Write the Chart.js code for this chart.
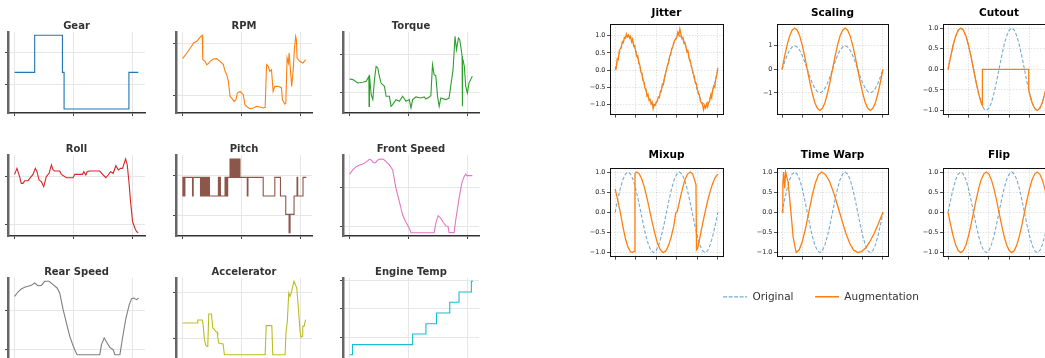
<!DOCTYPE html>
<html><head><meta charset="utf-8">
<script src="https://cdn.jsdelivr.net/npm/chart.js@4.4.1/dist/chart.umd.min.js"></script>
<style>
html,body{margin:0;padding:0;background:#fff;overflow:hidden;width:1045px;height:358px;}
canvas{position:absolute;}
</style></head><body>
<script>
// ---------------- DATA: left panel (vehicle signals, normalised 0-100) ----------------
const leftXTicks = [0, 500, 1000];

const gearT = [0,169.5,169.5,404,404,418,418,966,966,1045];
const gearV = [50.2,50.2,95.9,95.9,50.2,50.2,4.9,4.9,50.2,50.2];
const gearTicks = [34.6, 74.1];

const rpmT = [0,37,79,93,121,155,167,172,192,206,220,234,263,291,319,347,362,376,390,404,418,438,455,466,489,503,517,531,551,573,602,630,658,686,703,715,729,743,757,771,785,814,842,850,870,879,890,901,907,918,929,941,952,963,969,975,997,1025,1048];
const rpmV = [67.1,74.1,83.1,86.4,88.5,94.7,95.9,65.8,63.8,59.7,60.9,63.8,66.7,67.1,63.8,59.7,51.4,47.3,39.1,20.6,18.5,14.4,16.5,24.7,26.7,24.7,22.6,10.3,7.4,5.3,6.2,8.2,7.4,6.2,7.0,59.7,57.6,51.4,53.5,26.7,32.9,32.9,30.9,16.5,11.1,12.3,67.9,61.7,74.1,53.5,32.9,51.4,78.2,94.7,90.5,67.9,63.8,61.7,65.8];
const rpmTicks = [22.2, 85.2];

const torqueT = [0,28,71,113,141,160,164,166,169,184,198,212,226,240,254,268,297,311,339,353,367,395,424,452,480,508,523,537,565,607,636,650,678,692,706,720,734,749,763,777,819,847,881,898,910,927,938,955,958,960,962,966,977,989,1003,1017,1031,1045];
const torqueV = [42,41.2,37,37.9,39.1,44,46.1,8.2,47.3,22.6,16.5,41.2,57.6,55.6,45.3,37,32.9,20.6,20.6,8.2,10.3,16.5,14.4,20.6,14.4,16.5,6.2,16.5,19.8,18.5,19.8,17.3,19.8,21.4,59.7,47.3,46.1,20.6,8.2,18.5,16.5,18.5,53.5,94.7,78.2,92.6,90.5,74.1,70,8.2,65.8,65.8,57.6,32.9,24.7,37,41.2,45.3];
const torqueTicks = [24.7, 72.0];

const rollT = [0,20,42,56,71,85,113,133,155,175,189,206,226,246,268,291,311,325,339,381,395,438,494,508,573,585,602,613,630,720,749,771,791,811,833,856,876,895,912,938,952,966,980,997,1017,1031,1045];
const rollV = [76.1,83.5,73.3,65,65,68.3,68.3,72,76.1,83.5,79.4,69.1,67.1,60.9,73.3,77.4,87.7,81.5,80.2,80.2,76.1,72,72,76.1,76.1,79.4,75.3,79.4,80.2,80.2,75.3,72,75.3,79.4,77.4,86.8,81.5,83.5,83.5,95.1,87.7,67.1,42.4,17.7,9.5,5.3,4.1];
const rollTicks = [13.6, 73.3];

const pitchT = [0,2.8,5.7,8.5,11.3,14.1,17,19.8,84.8,90.4,152.6,158.2,163.9,169.5,175.2,180.8,186.5,192.1,194.9,200.6,206.2,211.9,217.5,223.2,228.8,305.1,310.8,316.4,322.1,361.6,367.3,372.9,378.6,384.2,404,409.6,415.3,420.9,426.6,432.2,437.9,443.5,449.2,454.8,460.5,466.1,471.8,477.4,483.1,488.7,550.9,556.5,686.5,785.4,833.4,878.6,906.8,915.3,949.2,974.6,980.3,1025.5,1053.7];
const pitchV = [49.4,72.4,49.4,72.4,49.4,72.4,49.4,72.4,49.4,72.4,49.4,72.4,49.4,72.4,49.4,72.4,49.4,72.4,49.4,72.4,49.4,72.4,49.4,72.4,49.4,72.4,49.4,72.4,49.4,72.4,49.4,72.4,49.4,72.4,95.1,72.4,95.1,72.4,95.1,72.4,95.1,72.4,95.1,72.4,95.1,72.4,95.1,72.4,95.1,72.4,49.4,72.4,49.4,72.4,49.4,26.7,4.1,26.7,49.4,72.4,49.4,72.4,72.4];
const pitchTicks = [25.1, 74.5];

const frontT = [0,28,56,85,113,136,155,169,184,203,220,240,260,288,311,339,367,395,424,452,480,508,523,720,734,754,777,797,819,839,847,890,904,932,955,975,989,997,1045];
const frontV = [76.5,81.5,85.6,87.7,88.9,90.9,93,94.7,93.8,90.5,90.5,93.8,95.1,94.7,91.8,87.7,81.5,58.8,42.4,25.9,16.9,9.5,4.1,4.1,15.6,25.1,21.8,16.9,12.8,11.5,4.5,4.1,19.8,46.5,65,73.3,76.5,74.5,74.5];
const frontTicks = [12.3, 60.1];

const rearT = [0,28,56,85,113,141,169,198,226,254,291,325,359,381,410,438,466,489,508,528,720,734,757,777,805,833,847,890,912,941,969,989,1008,1031,1048];
const rearV = [77.4,82.7,86.4,88.5,89.7,90.9,93.8,90.5,90.9,95.9,95.9,91.8,87.7,81.5,60.9,44.4,28,18.5,11.5,5.3,5.3,17.7,25.9,21,14.4,11.5,5.3,5.3,25.9,50.6,67.1,74.5,75.3,73.3,75.3];
const rearTicks = [11.5, 60.1];

const accT = [0,124,130,167,175,186,198,209,215,223,246,257,266,280,294,299,308,345,356,703,712,760,768,873,881,892,904,915,927,938,949,963,972,986,1000,1009,1017,1023,1034,1048];
const accV = [44.4,44.4,48.1,48.1,42.4,23.9,16.9,15.6,17.7,55.6,55.6,38.3,37.4,34.2,33.3,28,19.8,18.5,5.3,5.3,41.2,41.2,5.3,5.3,34.2,46.5,81.5,77.4,82.7,89.7,95.9,90.9,87.7,63,34.2,26.7,28,40.3,40.3,48.6];
const accTicks = [24.7, 81.5];

const tempT = [0,25,25,537,537,650,650,740,740,853,853,932,932,1037,1037,1051];
const tempV = [5.3,5.3,17.7,17.7,30.9,30.9,43.6,43.6,56.8,56.8,70,70,82.7,82.7,95.9,95.9];
const tempTicks = [26.7, 62.1, 96.7];

// ---------------- DATA: right panel (augmentations of a sine) ----------------
const rightXTicks = [0,20,40,60,80,100];
const decTicks = [-1,-0.5,0,0.5,1];
const decLabels = ['\u22121.0','\u22120.5','0.0','0.5','1.0'];
const intTicks = [-1,0,1];
const intLabels = ['\u22121','0','1'];

const origT = [0,2.5,5,7.5,10,12.5,15,17.5,20,22.5,25,27.5,30,32.5,35,37.5,40,42.5,45,47.5,50,52.5,55,57.5,60,62.5,65,67.5,70,72.5,75,77.5,80,82.5,85,87.5,90,92.5,95,97.5,100];
const origV = [0,0.31,0.59,0.81,0.95,1,0.95,0.81,0.59,0.31,0,-0.31,-0.59,-0.81,-0.95,-1,-0.95,-0.81,-0.59,-0.31,0,0.31,0.59,0.81,0.95,1,0.95,0.81,0.59,0.31,0,-0.31,-0.59,-0.81,-0.95,-1,-0.95,-0.81,-0.59,-0.31,0];

const jitterV = [0.10,0.05,0.32,0.30,0.55,0.62,0.66,0.83,0.80,0.95,0.93,1.05,0.97,1.02,0.93,0.98,0.82,0.90,0.70,0.72,0.55,0.40,0.42,0.20,0.15,-0.05,-0.08,-0.30,-0.33,-0.52,-0.55,-0.75,-0.70,-0.88,-0.85,-0.98,-0.92,-1.12,-1.00,-1.02,-0.93,-0.90,-0.78,-0.80,-0.62,-0.58,-0.40,-0.42,-0.22,-0.10,0.02,0.15,0.22,0.40,0.45,0.62,0.66,0.80,0.86,0.92,0.95,1.10,1.02,1.20,1.05,0.92,0.95,0.78,0.80,0.66,0.52,0.55,0.32,0.30,0.15,0.02,-0.10,-0.18,-0.35,-0.38,-0.55,-0.66,-0.72,-0.90,-0.95,-0.98,-1.15,-1.03,-1.10,-0.98,-1.07,-0.95,-0.90,-0.72,-0.80,-0.58,-0.45,-0.50,-0.25,-0.12,0.07];

const scaleV = [0,0.54,1.03,1.42,1.66,1.75,1.66,1.42,1.03,0.54,0,-0.54,-1.03,-1.42,-1.66,-1.75,-1.66,-1.42,-1.03,-0.54,0,0.54,1.03,1.42,1.66,1.75,1.66,1.42,1.03,0.54,0,-0.54,-1.03,-1.42,-1.66,-1.75,-1.66,-1.42,-1.03,-0.54,0];

const cutT = [0,2.5,5,7.5,10,12.5,15,17.5,20,22.5,25,27.5,30,32.5,33.7,33.7,79.2,79.2,80,82.5,85,87.5,90,92.5,95,97.5,100];
const cutV = [0,0.31,0.59,0.81,0.95,1,0.95,0.81,0.59,0.31,0,-0.31,-0.59,-0.81,-0.87,0,0,-0.5,-0.59,-0.81,-0.95,-1,-0.95,-0.81,-0.59,-0.31,0];

const mixT = [0,2.5,5,7.5,10,12.5,15,16.5,18.7,19.3,21,23.5,26,28.5,31,33.5,36,38.5,41,43.5,46,47,49.5,52,54.5,57,59,60.5,63,65.5,68,70.5,73,75.5,78.7,79.2,80.5,82.5,85,87.5,90,92.5,95,97.5,100];
const mixV = [0.58,0.30,0.0,-0.35,-0.65,-0.87,-0.98,-1.0,-0.97,0.97,1.0,0.955,0.82,0.62,0.35,0.06,-0.24,-0.51,-0.75,-0.91,-0.99,-1.0,-0.955,-0.82,-0.62,-0.35,-0.02,0.02,0.31,0.59,0.81,0.95,1.0,0.95,0.69,-0.93,-0.88,-0.62,-0.30,0.0,0.28,0.52,0.72,0.87,0.95];

const warpT = [0,0.8,1.6,2.6,3.6,6,8.5,11,14,17,20,23,26.5,30,33,36,39,43,47,51,55,57,59,63,67,71,75,79,83,87,91,95,100];
const warpV = [0,0.7,1.0,0.6,1.0,0.75,0.09,-0.62,-1,-0.93,-0.73,-0.43,0,0.43,0.73,0.93,1,0.94,0.77,0.5,0.17,0,-0.17,-0.5,-0.77,-0.94,-1,-0.97,-0.88,-0.73,-0.54,-0.31,0];

const flipV = [0,-0.31,-0.59,-0.81,-0.95,-1,-0.95,-0.81,-0.59,-0.31,0,0.31,0.59,0.81,0.95,1,0.95,0.81,0.59,0.31,0,-0.31,-0.59,-0.81,-0.95,-1,-0.95,-0.81,-0.59,-0.31,0,0.31,0.59,0.81,0.95,1,0.95,0.81,0.59,0.31,0];

const legendLabels = ['Original', 'Augmentation'];

// ---------------- LAYOUT & STYLE ----------------
const LAYOUT = {
  leftCols: [[8,145],[176,312],[343,479]],
  leftRows: [[32,113],[155,236],[278,359]],
  rightCols: [[610,723],[777,888],[943,1055]],
  rightRows: [[24,116,13.3],[168,258,155.5]]
};
const ORIG_COLOR = 'rgba(31,119,180,0.62)';
const AUG_COLOR = '#ff7f0e';

Chart.defaults.font.family = "'DejaVu Sans', sans-serif";
Chart.defaults.animation = false;

function mkCanvas(left, top, w, h) {
  const c = document.createElement('canvas');
  c.width = w; c.height = h;
  c.style.left = left + 'px'; c.style.top = top + 'px';
  c.style.width = w + 'px'; c.style.height = h + 'px';
  document.body.appendChild(c);
  return c;
}
function setTicks(vals) { return s => { s.ticks = vals.map(v => ({ value: v })); }; }
function pts(t, v) { return t.map((x, i) => ({ x: x, y: v[i] })); }

function leftChart(title, color, t, v, yTicks, col, row, stepped) {
  const [L, R] = LAYOUT.leftCols[col];
  const [T, B] = LAYOUT.leftRows[row];
  const yw = 5, xh = 5, th = 12, pr = 3;
  const c = mkCanvas(L - yw, T - th, R - L + yw + pr, B - T + th + xh);
  new Chart(c, {
    type: 'line',
    data: { datasets: [{ data: pts(t, v), borderColor: color, borderWidth: 1.1, pointRadius: 0, fill: false, tension: 0, stepped: stepped ? 'before' : false }] },
    options: {
      responsive: false, animation: false, events: [],
      layout: { padding: { left: 0, right: pr, top: 0, bottom: 0 } },
      plugins: {
        legend: { display: false }, tooltip: { enabled: false },
        title: { display: true, fullSize: false, text: title, color: '#333', font: { size: 10, weight: 'bold', lineHeight: 1.2 }, padding: { top: 0, bottom: 0 } }
      },
      scales: {
        x: { type: 'linear', min: -56, max: 1102, afterBuildTicks: setTicks(leftXTicks), afterFit: s => { s.height = xh; },
             ticks: { display: false },
             grid: { color: '#e6e6e6', lineWidth: 1, tickLength: 3, tickColor: '#444', tickWidth: 1 },
             border: { color: '#333', width: 1.5 } },
        y: { type: 'linear', min: 0, max: 100, afterBuildTicks: setTicks(yTicks), afterFit: s => { s.width = yw; },
             ticks: { display: false },
             grid: { color: '#e6e6e6', lineWidth: 1, tickLength: 3, tickColor: '#444', tickWidth: 1 },
             border: { color: '#666', width: 2.5 } }
      }
    }
  });
}

function rightChart(title, col, row, yMin, yMax, yTicks, yLabels, origData, augData, augWidth) {
  const [L, R] = LAYOUT.rightCols[col];
  const [T, B, tc] = LAYOUT.rightRows[row];
  const yw = 26, xh = 4, pr = 3, fs = 10.5, th = fs * 1.2;
  const top = Math.round(tc - th / 2);
  const pb = T - top - th;
  const c = mkCanvas(L - yw, top, R - L + yw + pr, B - top + xh);
  const gridOpts = { color: 'rgba(0,0,0,0.14)', lineWidth: 0.8, borderDash: [1.5, 1.5], tickLength: 3, tickColor: '#222', tickWidth: 0.8, tickBorderDash: [] };
  new Chart(c, {
    type: 'line',
    data: { datasets: [
      { label: legendLabels[1], data: augData, borderColor: AUG_COLOR, borderWidth: augWidth, pointRadius: 0, fill: false, tension: 0, order: 1 },
      { label: legendLabels[0], data: origData, borderColor: ORIG_COLOR, borderWidth: 1.1, borderDash: [3.5, 2], pointRadius: 0, fill: false, tension: 0, order: 2 }
    ] },
    options: {
      responsive: false, animation: false, events: [],
      layout: { padding: { left: 0, right: pr, top: 0, bottom: 0 } },
      plugins: {
        legend: { display: false }, tooltip: { enabled: false },
        title: { display: true, fullSize: false, text: title, color: '#000', font: { size: fs, weight: 'bold', lineHeight: 1.2 }, padding: { top: 0, bottom: pb } }
      },
      scales: {
        x: { type: 'linear', position: 'bottom', min: -5, max: 105, afterBuildTicks: setTicks(rightXTicks), afterFit: s => { s.height = xh; },
             ticks: { display: false }, grid: gridOpts,
             border: { color: '#111', width: 1, dash: [1.5, 1.5] } },
        y: { type: 'linear', position: 'left', min: yMin, max: yMax, afterBuildTicks: setTicks(yTicks), afterFit: s => { s.width = yw; },
             ticks: { display: true, autoSkip: false, font: { size: 6.5 }, color: '#222', padding: 1.5, callback: (v, i) => yLabels[i] },
             grid: gridOpts,
             border: { color: '#111', width: 1, dash: [1.5, 1.5] } },
        x2: { type: 'linear', position: 'top', min: 0, max: 1, afterFit: s => { s.height = 0; },
              ticks: { display: false }, grid: { display: false, drawTicks: false }, border: { color: '#111', width: 1 } },
        y2: { type: 'linear', position: 'right', min: 0, max: 1, afterFit: s => { s.width = 0; },
              ticks: { display: false }, grid: { display: false, drawTicks: false }, border: { color: '#111', width: 1 } }
      }
    }
  });
}

// ---------------- LEFT PANEL ----------------
leftChart('Gear', '#1f77b4', gearT, gearV, gearTicks, 0, 0, false);
leftChart('RPM', '#ff7f0e', rpmT, rpmV, rpmTicks, 1, 0, false);
leftChart('Torque', '#2ca02c', torqueT, torqueV, torqueTicks, 2, 0, false);
leftChart('Roll', '#d62728', rollT, rollV, rollTicks, 0, 1, false);
leftChart('Pitch', '#8c564b', pitchT, pitchV, pitchTicks, 1, 1, true);
leftChart('Front Speed', '#e377c2', frontT, frontV, frontTicks, 2, 1, false);
leftChart('Rear Speed', '#7f7f7f', rearT, rearV, rearTicks, 0, 2, false);
leftChart('Accelerator', '#bcbd22', accT, accV, accTicks, 1, 2, false);
leftChart('Engine Temp', '#17becf', tempT, tempV, tempTicks, 2, 2, false);

// ---------------- RIGHT PANEL ----------------
const origPts = pts(origT, origV);
rightChart('Jitter', 0, 0, -1.29, 1.34, decTicks, decLabels, origPts, jitterV.map((v, i) => ({ x: i, y: v })), 1.3);
rightChart('Scaling', 1, 0, -1.925, 1.925, intTicks, intLabels, origPts, pts(origT, scaleV), 1.3);
rightChart('Cutout', 2, 0, -1.1, 1.1, decTicks, decLabels, origPts, pts(cutT, cutV), 1.3);
rightChart('Mixup', 0, 1, -1.1, 1.1, decTicks, decLabels, origPts, pts(mixT, mixV), 1.3);
rightChart('Time Warp', 1, 1, -1.1, 1.1, decTicks, decLabels, origPts, pts(warpT, warpV), 1.3);
rightChart('Flip', 2, 1, -1.1, 1.1, decTicks, decLabels, origPts, pts(origT, flipV), 1.3);

// ---------------- LEGEND ----------------
(function () {
  const c = mkCanvas(621, 270, 400, 120);
  new Chart(c, {
    type: 'line',
    data: { datasets: [
      { label: legendLabels[0], data: [], borderColor: ORIG_COLOR, backgroundColor: 'rgba(0,0,0,0)', borderWidth: 1.2, borderDash: [3.5, 2] },
      { label: legendLabels[1], data: [], borderColor: AUG_COLOR, backgroundColor: 'rgba(0,0,0,0)', borderWidth: 1.5 }
    ] },
    options: {
      responsive: false, animation: false, events: [],
      plugins: {
        tooltip: { enabled: false },
        legend: { display: true, position: 'top', align: 'center', maxHeight: 100,
          labels: { boxWidth: 24, boxHeight: 0, padding: 21.6, color: '#333', font: { size: 10.5 } } }
      },
      scales: { x: { display: false }, y: { display: false } }
    }
  });
})();
</script>
</body></html>
